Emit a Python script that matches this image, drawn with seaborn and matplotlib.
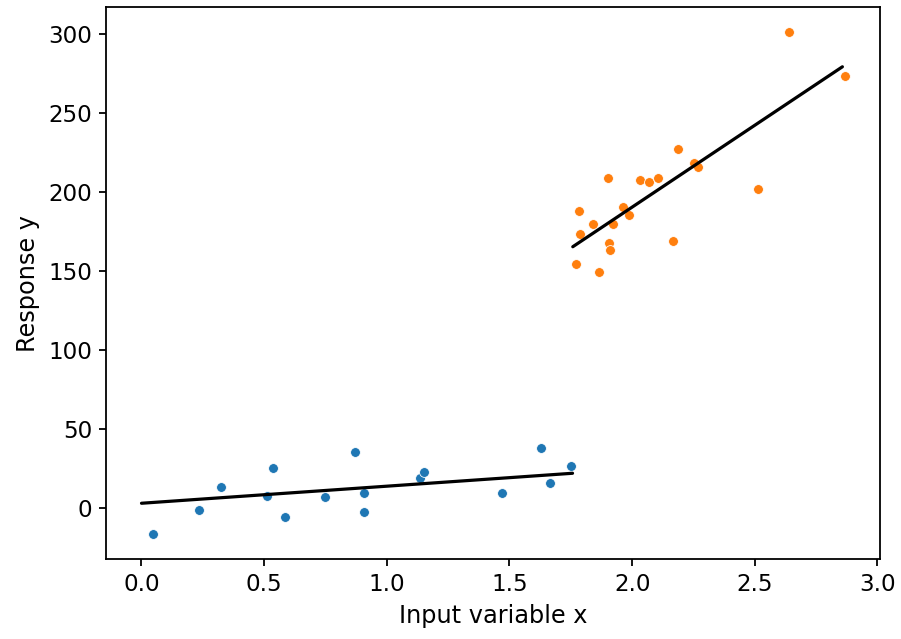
import matplotlib
matplotlib.use("Agg")
import matplotlib.pyplot as plt
import seaborn as sns
import pandas as pd

# Group 1 (low x) observations
x_low = [0.046, 0.236, 0.324, 0.534, 0.510, 0.586, 0.749, 0.871, 0.908, 0.908,
         1.136, 1.152, 1.468, 1.629, 1.667, 1.751]
y_low = [-16.5, -1.3, 13.5, 25.2, 7.6, -5.5, 7.2, 35.4, 9.8, -2.5,
         19.3, 23.1, 9.3, 38.3, 16.1, 26.3]

# Group 2 (high x) observations
x_high = [2.641, 2.868, 2.186, 2.253, 2.268, 1.901, 2.031, 2.068, 2.104, 2.515,
          1.783, 1.962, 1.986, 1.841, 1.920, 1.788, 1.905, 1.910, 2.167, 1.770,
          1.864]
y_high = [301.3, 273.5, 227.1, 218.6, 215.9, 209.3, 207.6, 206.8, 209.3, 202.3,
          188.4, 190.9, 185.8, 180.1, 179.7, 173.7, 167.8, 163.6, 169.3, 154.3,
          149.8]

# Fitted segments
fit_low_x = [0.0, 1.757]
fit_low_y = [3.0, 22.0]
fit_high_x = [1.758, 2.857]
fit_high_y = [165.5, 279.5]

x_label = "Input variable x"
y_label = "Response y"

df_low = pd.DataFrame({"x": x_low, "y": y_low})
df_high = pd.DataFrame({"x": x_high, "y": y_high})
df_fit_low = pd.DataFrame({"x": fit_low_x, "y": fit_low_y})
df_fit_high = pd.DataFrame({"x": fit_high_x, "y": fit_high_y})

sns.set_style("ticks")
plt.rcParams["font.family"] = ["DejaVu Sans"]
plt.rcParams["text.color"] = "black"
plt.rcParams["axes.labelcolor"] = "black"
plt.rcParams["xtick.color"] = "black"
plt.rcParams["ytick.color"] = "black"
plt.rcParams["axes.edgecolor"] = "black"

fig = plt.figure(figsize=(901 / 144, 639 / 144), dpi=144)
ax = fig.add_axes([0.118, 0.125, 0.977 - 0.118, 0.9886 - 0.125])

sns.scatterplot(data=df_low, x="x", y="y", ax=ax, color="#1f77b4", s=24,
                edgecolor="white", linewidth=0.4, zorder=2)
sns.scatterplot(data=df_high, x="x", y="y", ax=ax, color="#ff7f0e", s=24,
                edgecolor="white", linewidth=0.4, zorder=2)
sns.lineplot(data=df_fit_low, x="x", y="y", ax=ax, color="black", linewidth=1.6, zorder=3)
sns.lineplot(data=df_fit_high, x="x", y="y", ax=ax, color="black", linewidth=1.6, zorder=3)

ax.set_xlabel(x_label, fontsize=12, color="black")
ax.set_ylabel(y_label, fontsize=12, color="black")
ax.set_xticks([0.0, 0.5, 1.0, 1.5, 2.0, 2.5, 3.0])
ax.set_yticks([0, 50, 100, 150, 200, 250, 300])
ax.tick_params(labelsize=11.5, length=3.5, width=0.9, color="black", labelcolor="black")
for sp in ax.spines.values():
    sp.set_visible(True)
    sp.set_linewidth(0.9)
    sp.set_color("black")
ax.margins(0.05)

fig.savefig("out.png", dpi=144)
